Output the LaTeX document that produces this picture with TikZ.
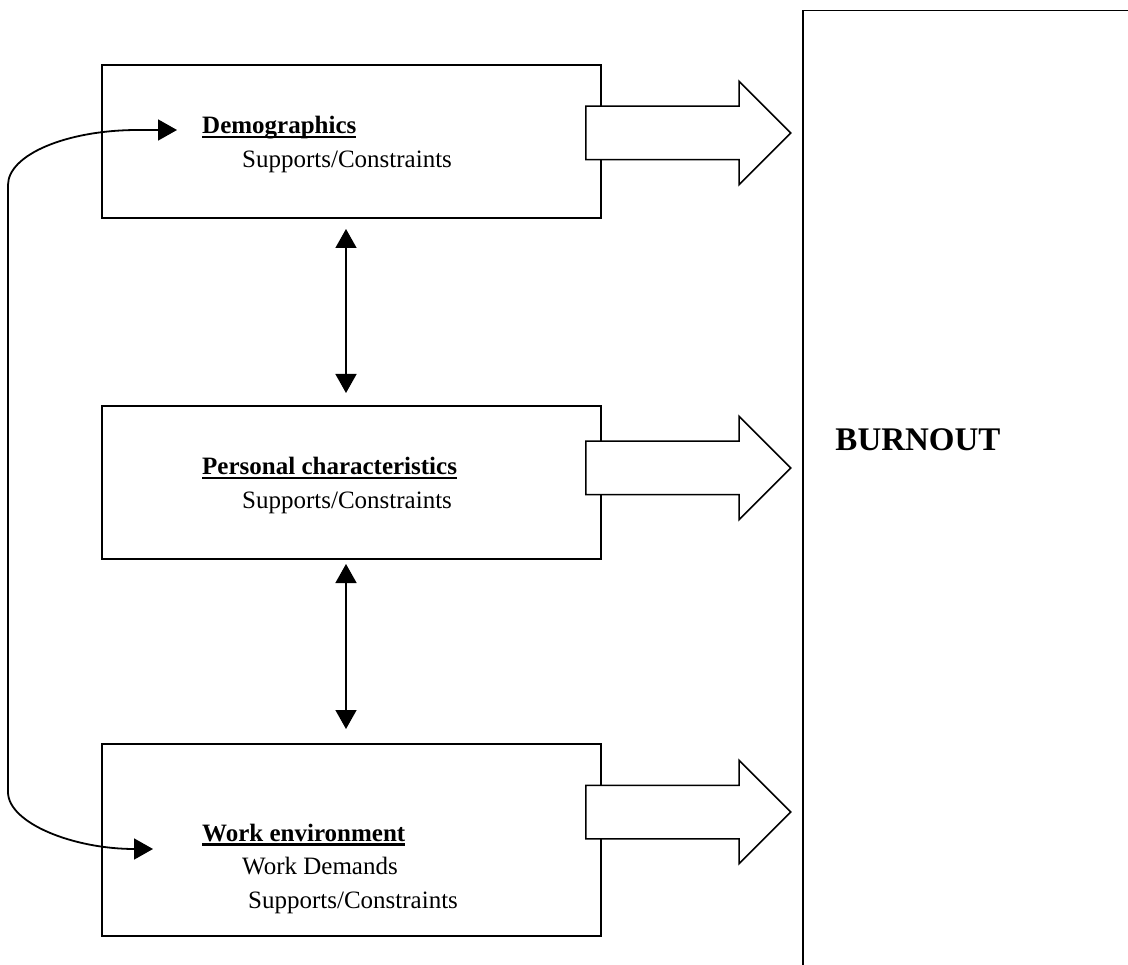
\documentclass[tikz,border=0pt]{standalone}
\usepackage{fontspec}
\setmainfont{Liberation Serif}
\usetikzlibrary{positioning}
\usetikzlibrary{arrows.meta}
\usetikzlibrary{shapes.arrows}

\newcommand{\factorhead}[1]{%
  \setbox0\hbox{\bfseries #1}%
  \rlap{\usebox0}\raisebox{-4.5pt}{\rule{\wd0}{2.6pt}}}

\tikzset{factor box/.style={
    draw, line width=2pt,
    minimum width=499pt,
    anchor=north west,
    inner sep=0pt
  },
  factor text/.style={
    anchor=base west,
    inner sep=0pt,
    font=\fontsize{25}{30}\selectfont
  },
  block arrow/.style={
    single arrow, draw, line width=1.5pt, fill=white,
    minimum height=205pt, minimum width=0pt,
    inner xsep=0pt, inner ysep=26pt,
    single arrow head extend=25pt,
    single arrow head indent=0pt,
    anchor=tail
  },
  link/.style={
    line width=1.5pt,
    {Triangle[length=19pt,width=21pt]}-{Triangle[length=19pt,width=21pt]}
  }
}

\begin{document}
\begin{tikzpicture}[x=1pt,y=-1pt]
  \useasboundingbox (0,0) rectangle (1128,965);
  \clip (0,0) rectangle (1128,965);

  % the three factors
  \node[factor box, minimum height=153pt] (dem) at (101,64) {};
  \node[factor box, minimum height=153pt] (pers) at (101,405) {};
  \node[factor box, minimum height=192pt] (work) at (101,743) {};

  \node[factor text] (dem title) at (202,134) {\factorhead{Demographics}};
  \node[factor text] (dem sub) at (242,168) {Supports/Constraints};
  \node[factor text] (pers title) at (202,475) {\factorhead{Personal characteristics}};
  \node[factor text] (pers sub) at (242,509) {Supports/Constraints};
  \node[factor text] (work title) at (202,841) {\factorhead{Work environment}};
  \node[factor text] (work demands) at (242,874) {Work Demands};
  \node[factor text] (work sub) at (248,908) {Supports/Constraints};

  % outcome
  \node[draw, line width=1.5pt, anchor=north west, inner sep=0pt,
    minimum width=340pt, minimum height=980pt] (burnout) at (802,10) {};
  \node[font=\fontsize{33}{40}\selectfont\bfseries] (burnout text) at (918,440) {BURNOUT};

  \node[block arrow] (dem arrow) at (585,133) {};
  \node[block arrow] (pers arrow) at (585,468) {};
  \node[block arrow] (work arrow) at (585,812) {};

  \draw[link] ([xshift=-5.5pt,yshift=-10pt]dem.south) -- ([xshift=-5.5pt,yshift=12pt]pers.north);
  \draw[link] ([xshift=-5.5pt,yshift=-4pt]pers.south) -- ([xshift=-5.5pt,yshift=14pt]work.north);

  \coordinate (dem in) at (177,130);
  \coordinate (work in) at (153,849);
  \draw[link, line width=1.8pt] (dem in) -- (138,130) .. controls (66,130) and (8,155) .. (8,185)
    -- (8,792) .. controls (8,823) and (73,849) .. (work in);
\end{tikzpicture}
\end{document}
